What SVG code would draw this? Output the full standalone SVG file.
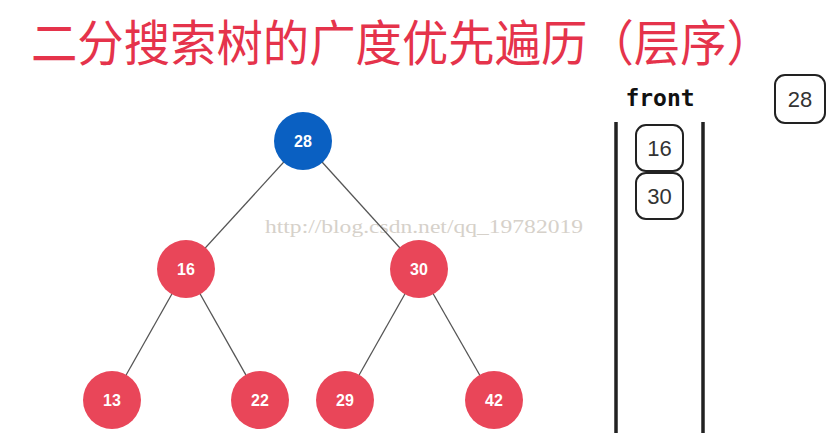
<svg xmlns="http://www.w3.org/2000/svg" width="831" height="433" viewBox="0 0 831 433">
<style>
.title{font-family:"Noto Sans CJK SC","Noto Sans",sans-serif;font-size:49px;font-weight:400;fill:#e5334b}
.edge{stroke:#555;stroke-width:1.3;fill:none}
.red{fill:#e94659}
.blue{fill:#0a60c2}
.nl{font-family:"Liberation Sans",Arial,sans-serif;font-size:16px;font-weight:bold;fill:#fff;text-anchor:middle}
.box{fill:#fff;stroke:#222;stroke-width:2}
.bl{font-family:"Liberation Sans",Arial,sans-serif;font-size:22px;fill:#333;text-anchor:middle}
.wall{stroke:#222;stroke-width:3.5}
.wm{font-family:"Liberation Serif","DejaVu Serif",serif;font-size:18px;fill:#d6d1ca}
</style>
<rect width="831" height="433" fill="#fff"/>
<text class="title" x="31" y="61" textLength="742" lengthAdjust="spacingAndGlyphs">二分搜索树的广度优先遍历（层序）</text>
<text class="wm" x="265" y="233" textLength="318" lengthAdjust="spacingAndGlyphs">http://blog.csdn.net/qq_19782019</text>
<g id="edges">
<line class="edge" x1="303" y1="141" x2="186" y2="269"/>
<line class="edge" x1="303" y1="141" x2="419" y2="269"/>
<line class="edge" x1="186" y1="269" x2="112" y2="400"/>
<line class="edge" x1="186" y1="269" x2="260" y2="400"/>
<line class="edge" x1="419" y1="269" x2="345" y2="400"/>
<line class="edge" x1="419" y1="269" x2="494" y2="400"/>
</g>
<g id="n28"><circle class="blue" cx="303" cy="141" r="29"/><text class="nl" x="303" y="147">28</text></g>
<g id="n16"><circle class="red" cx="186" cy="269" r="29"/><text class="nl" x="186" y="275">16</text></g>
<g id="n30"><circle class="red" cx="419" cy="269" r="29"/><text class="nl" x="419" y="275">30</text></g>
<g id="n13"><circle class="red" cx="112" cy="400" r="29"/><text class="nl" x="112" y="406">13</text></g>
<g id="n22"><circle class="red" cx="260" cy="400" r="29"/><text class="nl" x="260" y="406">22</text></g>
<g id="n29"><circle class="red" cx="345" cy="400" r="29"/><text class="nl" x="345" y="406">29</text></g>
<g id="n42"><circle class="red" cx="494" cy="400" r="29"/><text class="nl" x="494" y="406">42</text></g>
<g id="queue">
<text x="660" y="106" font-family="'DejaVu Sans Mono','Liberation Mono',monospace" font-size="23" font-weight="bold" fill="#111" text-anchor="middle">front</text>
<line class="wall" x1="616" y1="122" x2="616" y2="433"/>
<line class="wall" x1="703" y1="122" x2="703" y2="433"/>
<g id="q16"><rect class="box" x="636" y="125" width="47" height="46" rx="10"/><text class="bl" x="659.5" y="156">16</text></g>
<g id="q30"><rect class="box" x="636" y="173" width="47" height="46" rx="10"/><text class="bl" x="659.5" y="204">30</text></g>
</g>
<g id="b28"><rect class="box" x="775" y="75" width="50" height="48" rx="10"/><text class="bl" x="800" y="107">28</text></g>
</svg>
